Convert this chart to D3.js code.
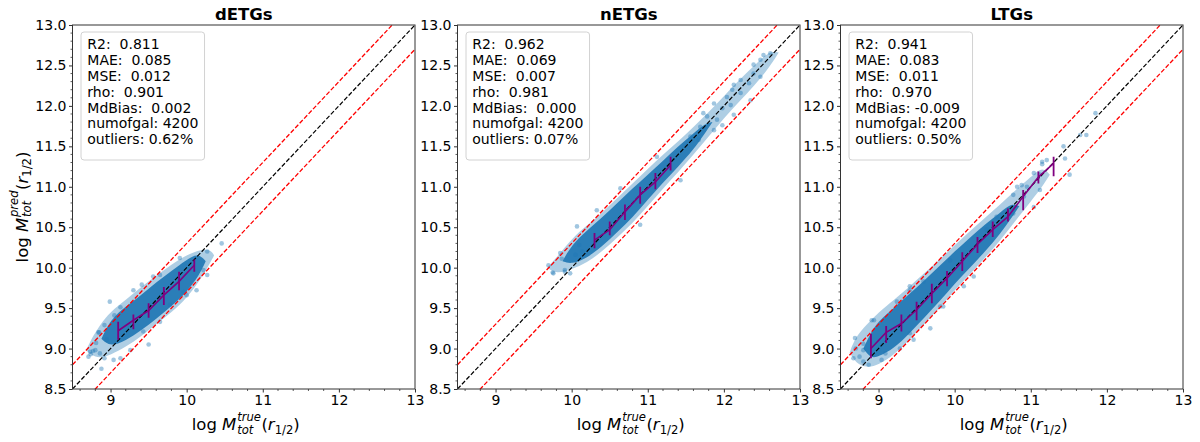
<!DOCTYPE html>
<html><head><meta charset="utf-8">
<script src="https://cdn.jsdelivr.net/npm/d3@7"></script>
<style>html,body{margin:0;padding:0;background:#fff;} svg{display:block;font-family:"DejaVu Sans",sans-serif;}</style>
</head><body><svg id="c" width="1200" height="442"></svg>
<script>
// ---------------- data ----------------
const titles = ["dETGs", "nETGs", "LTGs"];
const xTicks = [9, 10, 11, 12, 13];
const yTicks = [8.5, 9.0, 9.5, 10.0, 10.5, 11.0, 11.5, 12.0, 12.5, 13.0];
const axisDomain = [8.5, 13];
const outlierOffset = 0.3;

const stats1 = ["R2:  0.811", "MAE:  0.085", "MSE:  0.012", "rho:  0.901", "MdBias:  0.002", "numofgal: 4200", "outliers: 0.62%"];
const stats2 = ["R2:  0.962", "MAE:  0.069", "MSE:  0.007", "rho:  0.981", "MdBias:  0.000", "numofgal: 4200", "outliers: 0.07%"];
const stats3 = ["R2:  0.941", "MAE:  0.083", "MSE:  0.011", "rho:  0.970", "MdBias: -0.009", "numofgal: 4200", "outliers: 0.50%"];

// dense core of the point cloud: [true, predLow, predHigh]
const core1 = [[8.88,9.12,9.12],[9.0,9.02,9.36],[9.2,9.10,9.52],[9.4,9.22,9.66],[9.6,9.37,9.82],[9.8,9.52,9.96],[10.0,9.70,10.10],[10.15,9.88,10.18],[10.25,10.08,10.08]];
const core2 = [[9.88,10.08,10.08],[10.0,10.04,10.28],[10.2,10.12,10.46],[10.4,10.26,10.62],[10.6,10.44,10.80],[10.8,10.62,10.98],[11.0,10.84,11.15],[11.2,11.05,11.32],[11.4,11.25,11.50],[11.6,11.46,11.66],[11.75,11.66,11.78],[11.85,11.80,11.80]];
const core3 = [[8.8,9.0,9.0],[8.9,8.88,9.20],[9.0,8.90,9.34],[9.2,9.0,9.5],[9.4,9.18,9.67],[9.6,9.38,9.84],[9.8,9.58,10.02],[10.0,9.80,10.20],[10.2,10.0,10.37],[10.4,10.2,10.54],[10.6,10.42,10.68],[10.75,10.62,10.80],[10.85,10.76,10.76]];

// sparse outer fringe of the cloud: [true, predLow, predHigh]
const outer1 = [[8.68,8.98,8.98],[8.75,8.92,9.12],[8.85,8.88,9.28],[9.0,8.92,9.46],[9.2,9.02,9.60],[9.4,9.15,9.76],[9.6,9.30,9.90],[9.8,9.45,10.04],[10.0,9.62,10.16],[10.2,9.88,10.23],[10.32,10.08,10.22],[10.36,10.15,10.15]];
const outer2 = [[9.68,10.0,10.0],[9.8,9.92,10.12],[10.0,9.98,10.36],[10.2,10.06,10.52],[10.4,10.2,10.68],[10.6,10.37,10.86],[10.8,10.55,11.04],[11.0,10.76,11.22],[11.2,10.98,11.40],[11.4,11.18,11.56],[11.6,11.40,11.74],[11.8,11.62,11.92],[12.0,11.85,12.12],[12.2,12.05,12.32],[12.4,12.25,12.50],[12.6,12.48,12.68],[12.72,12.66,12.66]];
const outer3 = [[8.62,8.95,8.95],[8.7,8.82,9.15],[8.85,8.76,9.30],[9.0,8.80,9.45],[9.2,8.92,9.60],[9.4,9.10,9.76],[9.6,9.30,9.93],[9.8,9.50,10.10],[10.0,9.72,10.28],[10.2,9.92,10.45],[10.4,10.12,10.62],[10.6,10.34,10.78],[10.8,10.58,10.96],[11.0,10.82,11.12],[11.15,11.0,11.25],[11.25,11.15,11.15]];

// individual sparse galaxies: [true, pred]
const pts1 = [[8.88,8.75],[8.71,8.90],[8.77,8.97],[8.84,9.20],[8.92,9.29],[9.13,8.88],[9.50,9.05],[9.05,9.41],[9.13,9.51],[9.41,9.79],[9.56,9.89],[9.91,10.12],[10.27,10.20],[10.46,10.30],[10.0,9.66],[10.27,9.91],[10.22,9.97],[10.13,9.72],[9.78,9.54],[9.96,9.70],[8.81,9.07],[8.73,8.96],[8.95,9.11],[9.26,8.98],[9.43,9.21],[9.65,9.33],[8.99,9.58],[9.30,9.72],[9.65,9.91],[8.85,9.20],[8.74,8.93],[8.86,8.94],[8.80,8.98],[8.92,8.88],[9.04,8.86]];
const pts2 = [[9.75,9.94],[9.87,10.11],[9.91,9.97],[9.98,9.93],[10.14,10.20],[10.05,10.16],[10.10,10.28],[9.695,10.03],[12.61,12.65],[12.52,12.63],[12.48,12.57],[12.39,12.40],[12.33,12.28],[12.22,12.32],[12.13,12.26],[12.11,12.20],[12.22,12.16],[12.04,12.11],[12.09,12.01],[12.35,12.07],[11.98,11.97],[11.87,12.03],[11.91,11.83],[11.78,11.87],[11.87,11.70],[11.98,11.76],[11.69,11.74],[11.67,11.58],[11.56,11.62],[11.73,11.91],[12.13,11.89],[12.48,12.36],[12.39,12.51],[11.12,11.37],[10.64,10.98],[10.90,10.53],[11.43,11.08],[10.33,10.71],[10.07,10.51],[9.85,10.18],[9.76,9.93],[9.91,9.95]];
const pts3 = [[8.69,9.13],[8.67,8.88],[8.75,8.90],[8.80,8.84],[8.87,8.80],[8.94,9.35],[8.80,9.06],[9.04,8.86],[9.09,8.94],[9.24,9.58],[9.41,9.72],[9.59,9.83],[9.85,9.52],[9.68,9.25],[9.46,9.11],[9.28,9.00],[8.91,9.35],[8.70,9.00],[8.80,8.98],[9.41,9.77],[9.94,10.09],[10.12,9.77],[10.42,10.47],[10.55,10.63],[10.77,10.90],[10.82,11.00],[10.88,11.02],[10.95,11.00],[11.04,11.17],[11.12,11.15],[11.15,11.31],[11.21,11.33],[11.43,11.50],[11.45,11.35],[11.51,11.15],[11.65,11.64],[11.73,11.64],[11.04,10.75],[10.77,10.67],[10.91,10.88],[11.12,10.96],[11.85,11.91],[11.15,11.28],[9.41,9.19],[9.81,9.52],[10.25,9.89]];

// binned medians with spread
const bins1 = [9.1, 9.3, 9.5, 9.7, 9.9, 10.1];
const med1  = [9.22, 9.35, 9.47, 9.66, 9.83, 10.03];
const lo1   = [9.11, 9.24, 9.38, 9.54, 9.72, 9.95];
const hi1   = [9.33, 9.42, 9.56, 9.76, 9.95, 10.10];

const bins2 = [10.3, 10.5, 10.7, 10.9, 11.1, 11.3];
const med2  = [10.34, 10.47, 10.69, 10.90, 11.06, 11.27];
const lo2   = [10.24, 10.40, 10.59, 10.79, 10.97, 11.20];
const hi2   = [10.43, 10.57, 10.78, 11.00, 11.17, 11.37];

const bins3 = [8.9, 9.1, 9.3, 9.5, 9.7, 9.9, 10.1, 10.3, 10.5, 10.7, 10.9, 11.1, 11.3];
const med3  = [9.00, 9.20, 9.31, 9.48, 9.68, 9.87, 10.08, 10.29, 10.47, 10.63, 10.88, 11.12, 11.29];
const lo3   = [8.88, 9.07, 9.21, 9.35, 9.56, 9.77, 9.96, 10.18, 10.38, 10.57, 10.71, 11.04, 11.13];
const hi3   = [9.18, 9.28, 9.42, 9.58, 9.80, 9.96, 10.19, 10.38, 10.57, 10.73, 10.96, 11.19, 11.37];

// ---------------- layout ----------------
const panelLeft = [72.5, 457.5, 840.5];
const panelW = 342.5, plotTop = 25, plotBottom = 389;
const C0 = "#1f77b4";

const panels = [
  {title: titles[0], stats: stats1, core: core1, outer: outer1, pts: pts1, bins: bins1, med: med1, lo: lo1, hi: hi1},
  {title: titles[1], stats: stats2, core: core2, outer: outer2, pts: pts2, bins: bins2, med: med2, lo: lo2, hi: hi2},
  {title: titles[2], stats: stats3, core: core3, outer: outer3, pts: pts3, bins: bins3, med: med3, lo: lo3, hi: hi3}
];

const svg = d3.select("#c");
const defs = svg.append("defs");

function mathLabel(g, supText) {
  const fs = 16.5, ss = 11.6;
  let x = 0;
  const add = (txt, o) => {
    const t = g.append("text").attr("x", x).attr("y", o.dy || 0)
      .style("font-size", (o.size || fs) + "px")
      .style("font-style", o.it ? "italic" : "normal")
      .attr("fill", "#000").text(txt);
    return t.node().getComputedTextLength();
  };
  x += add("log", {}) + 5.2;
  x += add("M", {it: true}) + 0.8;
  const a = add(supText, {it: true, size: ss, dy: -9.5});
  const b = add("tot", {it: true, size: ss, dy: 3.5});
  x += Math.max(a, b) + 0.5;
  x += add("(", {});
  x += add("r", {it: true});
  x += add("1/2", {size: ss, dy: 3.5});
  x += add(")", {});
  return x;
}

panels.forEach((p, i) => {
  const L = panelLeft[i], R = L + panelW;
  const x = d3.scaleLinear().domain(axisDomain).range([L, R]);
  const y = d3.scaleLinear().domain(axisDomain).range([plotBottom, plotTop]);
  const g = svg.append("g");

  defs.append("clipPath").attr("id", "clip" + i).append("rect")
    .attr("x", L).attr("y", plotTop).attr("width", panelW).attr("height", plotBottom - plotTop);
  const plot = g.append("g").attr("clip-path", `url(#clip${i})`);

  // cloud fringe & core
  const area = d3.area().x(d => x(d[0])).y0(d => y(d[1])).y1(d => y(d[2])).curve(d3.curveBasis);
  plot.append("path").datum(p.outer).attr("d", area).attr("fill", C0).attr("fill-opacity", 0.36);
  plot.append("path").datum(p.core).attr("d", area).attr("fill", C0).attr("fill-opacity", 0.92);
  plot.selectAll("circle.pt").data(p.pts).join("circle").attr("class", "pt")
    .attr("cx", d => x(d[0])).attr("cy", d => y(d[1])).attr("r", 2.3)
    .attr("fill", C0).attr("fill-opacity", 0.42);

  // reference lines
  const line = d3.line().x(d => x(d[0])).y(d => y(d[1]));
  const d0 = axisDomain[0], d1 = axisDomain[1];
  plot.append("path").attr("d", line([[d0, d0 + outlierOffset], [d1, d1 + outlierOffset]]))
    .attr("stroke", "#ff0000").attr("stroke-width", 1.3).attr("stroke-dasharray", "4.5,2").attr("fill", "none");
  plot.append("path").attr("d", line([[d0, d0 - outlierOffset], [d1, d1 - outlierOffset]]))
    .attr("stroke", "#ff0000").attr("stroke-width", 1.3).attr("stroke-dasharray", "4.5,2").attr("fill", "none");
  plot.append("path").attr("d", line([[d0, d0], [d1, d1]]))
    .attr("stroke", "#000").attr("stroke-width", 1.2).attr("stroke-dasharray", "4.5,2").attr("fill", "none");

  // binned median with error bars
  const medPts = p.bins.map((b, k) => [b, p.med[k]]);
  plot.append("path").attr("d", line(medPts)).attr("stroke", "#800080").attr("stroke-width", 1.6).attr("fill", "none");
  plot.selectAll("line.eb").data(p.bins).join("line").attr("class", "eb")
    .attr("x1", d => x(d)).attr("x2", d => x(d))
    .attr("y1", (d, k) => y(p.lo[k])).attr("y2", (d, k) => y(p.hi[k]))
    .attr("stroke", "#800080").attr("stroke-width", 1.8);

  // axes
  const xa = g.append("g").attr("transform", `translate(0,${plotBottom})`)
    .call(d3.axisBottom(x).tickValues(xTicks).tickFormat(d3.format("d")).tickSize(3.5).tickPadding(3));
  const ya = g.append("g").attr("transform", `translate(${L},0)`)
    .call(d3.axisLeft(y).tickValues(yTicks).tickFormat(d3.format(".1f")).tickSize(3.5).tickPadding(2.5));
  [xa, ya].forEach(a => {
    a.select(".domain").remove();
    a.selectAll("line").attr("stroke", "#333");
    a.selectAll("text").style("font-size", "14px").style("font-family", "DejaVu Sans").attr("fill", "#000");
  });
  // minor ticks
  const xMinor = d3.range(86, 131, 2).map(v => v / 10).filter(v => !xTicks.includes(v));
  const yMinor = d3.range(85, 131, 1).map(v => v / 10).filter(v => !yTicks.some(t => Math.abs(t - v) < 1e-9));
  g.selectAll("line.xm").data(xMinor).join("line").attr("class", "xm")
    .attr("x1", d => x(d)).attr("x2", d => x(d)).attr("y1", plotBottom).attr("y2", plotBottom + 2)
    .attr("stroke", "#333").attr("stroke-width", 0.8);
  g.selectAll("line.ym").data(yMinor).join("line").attr("class", "ym")
    .attr("y1", d => y(d)).attr("y2", d => y(d)).attr("x1", L).attr("x2", L - 2)
    .attr("stroke", "#333").attr("stroke-width", 0.8);

  // spines
  g.append("rect").attr("x", L).attr("y", plotTop).attr("width", panelW).attr("height", plotBottom - plotTop)
    .attr("fill", "none").attr("stroke", "#333").attr("stroke-width", 1);

  // title
  g.append("text").attr("x", (L + R) / 2).attr("y", 20).attr("text-anchor", "middle")
    .style("font-size", "16.5px").style("font-weight", "bold").text(p.title);

  // stats box
  const box = g.append("g");
  const rect = box.append("rect");
  const tg = box.append("g");
  p.stats.forEach((s, k) => {
    tg.append("text").attr("x", L + 14.8).attr("y", 49.3 + k * 15.8)
      .attr("xml:space", "preserve").style("white-space", "pre")
      .style("font-size", "14px").text(s);
  });
  const bb = tg.node().getBBox();
  rect.attr("x", L + 8.5).attr("y", 32).attr("width", bb.width + 12.5).attr("height", 128)
    .attr("rx", 3).attr("fill", "#fff").attr("fill-opacity", 0.85)
    .attr("stroke", "#d2d2d2").attr("stroke-width", 1);

  // x label
  const xl = g.append("g");
  const wx = mathLabel(xl, "true");
  xl.attr("transform", `translate(${(L + R) / 2 - wx / 2 + 2},430)`);
});

// y label (first panel only)
const yl = svg.append("g");
const wy = mathLabel(yl, "pred");
yl.attr("transform", `translate(27.5,${(plotTop + plotBottom) / 2}) rotate(-90) translate(${-wy / 2},0)`);
</script>
</body></html>
